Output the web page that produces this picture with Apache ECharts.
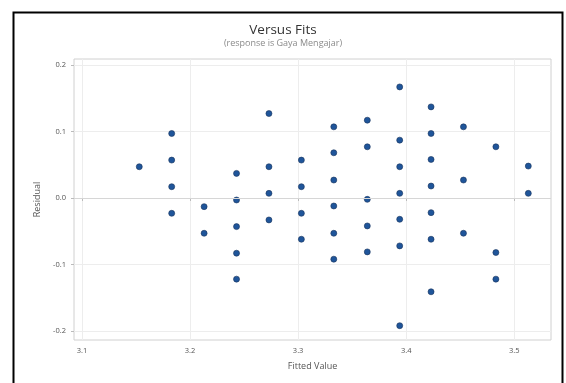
<!DOCTYPE html>
<html><head><meta charset="utf-8">
<script src="https://cdn.jsdelivr.net/npm/echarts@6/dist/echarts.min.js"></script>
<style>html,body{margin:0;padding:0;background:#fff}#c{width:566px;height:383px}</style>
</head><body><div id="c"></div>
<script>
const fitted = [3.153,
  3.183,3.183,3.183,3.183,
  3.213,3.213,
  3.243,3.243,3.243,3.243,3.243,
  3.273,3.273,3.273,3.273,
  3.303,3.303,3.303,3.303,
  3.333,3.333,3.333,3.333,3.333,3.333,
  3.364,3.364,3.364,3.364,3.364,
  3.394,3.394,3.394,3.394,3.394,3.394,3.394,
  3.423,3.423,3.423,3.423,3.423,3.423,3.423,
  3.453,3.453,3.453,
  3.483,3.483,3.483,
  3.513,3.513];
const residual = [0.047,
  0.097,0.057,0.017,-0.023,
  -0.013,-0.053,
  0.037,-0.003,-0.043,-0.083,-0.122,
  0.127,0.047,0.007,-0.033,
  0.057,0.017,-0.023,-0.062,
  0.107,0.068,0.027,-0.012,-0.053,-0.092,
  0.117,0.077,-0.002,-0.042,-0.081,
  0.167,0.087,0.047,0.007,-0.032,-0.072,-0.192,
  0.137,0.097,0.058,0.018,-0.022,-0.062,-0.141,
  0.107,0.027,-0.053,
  0.077,-0.082,-0.122,
  0.048,0.007];
const xTicks = [3.1,3.2,3.3,3.4,3.5];
const yTicks = [-0.2,-0.1,0.0,0.1,0.2];

const pts = fitted.map((x,i)=>[x,residual[i]]);
const chart = echarts.init(document.getElementById('c'), null, {renderer:'canvas'});
const font = 'Open Sans';
chart.setOption({
  animation:false,
  backgroundColor:'#fff',
  title:{
    text:'Versus Fits',
    subtext:'(response is Gaya Mengajar)',
    left:'center', top:18, itemGap:2,
    textStyle:{fontFamily:font,fontSize:13.5,fontWeight:'normal',color:'#333'},
    subtextStyle:{fontFamily:font,fontSize:9,color:'#8a8a8a'}
  },
  graphic:[{type:'rect',left:11,top:10,shape:{width:549,height:400},
    style:{fill:'none',stroke:'#000',lineWidth:2},silent:true}],
  grid:{left:74,right:15,top:59,bottom:43,show:true,borderColor:'#d0d0d0',borderWidth:1},
  xAxis:{
    type:'value',min:3.0926,max:3.534,
    name:'Fitted Value',nameLocation:'middle',nameGap:22,
    nameTextStyle:{fontFamily:font,fontSize:9,color:'#555'},
    axisLine:{show:false},
    axisTick:{show:true,customValues:xTicks,length:3,lineStyle:{color:'#bbb'}},
    axisLabel:{customValues:xTicks,fontFamily:font,fontSize:7.5,color:'#555',margin:7,
      formatter:v=>v.toFixed(1)},
    splitLine:{show:true,lineStyle:{color:'#ededed',width:1}}
  },
  yAxis:{
    type:'value',min:-0.2135,max:0.209,
    name:'Residual',nameLocation:'middle',nameGap:25,nameRotate:90,
    nameTextStyle:{fontFamily:font,fontSize:9,color:'#555'},
    axisLine:{show:false},
    axisTick:{show:true,customValues:yTicks,length:3,lineStyle:{color:'#bbb'}},
    axisLabel:{customValues:yTicks,fontFamily:font,fontSize:7.5,color:'#555',margin:8,
      formatter:v=>v.toFixed(1)},
    splitLine:{show:true,lineStyle:{color:'#ededed',width:1}}
  },
  series:[{
    type:'scatter',data:pts,symbolSize:6,
    itemStyle:{color:'#1f559a',borderColor:'#17325a',borderWidth:0.6,opacity:1},
    markLine:{silent:true,symbol:'none',label:{show:false},
      lineStyle:{color:'#d6d6d6',type:'solid',width:1},
      data:[{yAxis:0}]}
  }]
});
</script></body></html>
